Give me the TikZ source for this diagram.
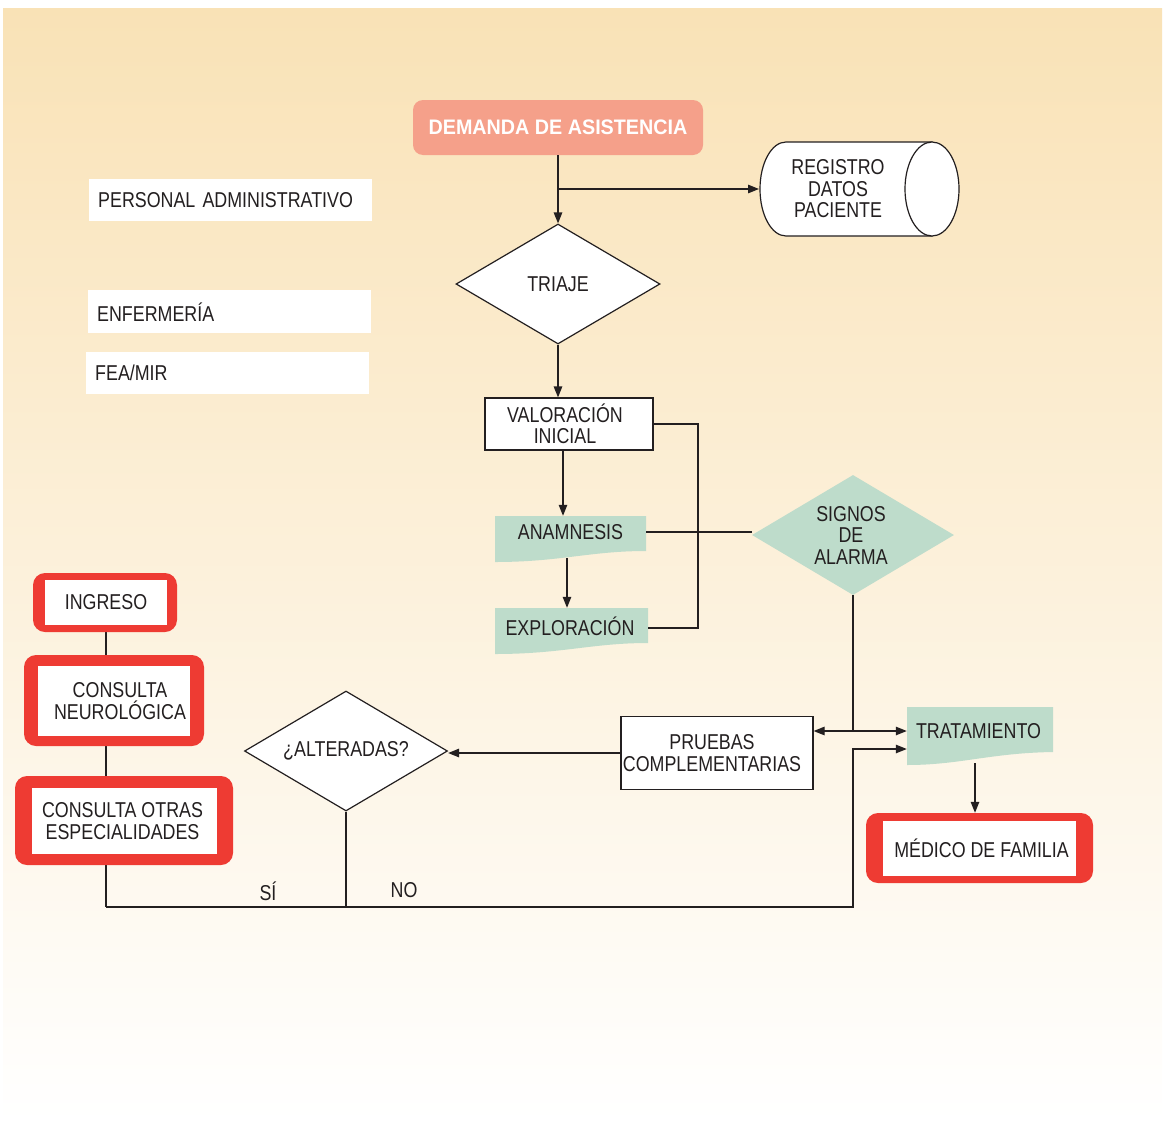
\documentclass[tikz,border=0pt]{standalone}
\usepackage{fontspec}
\setmainfont{Liberation Sans}[FakeStretch=0.83]
\newfontfamily\boldfont{Liberation Sans}[FakeStretch=0.94]
\usetikzlibrary{arrows.meta,shapes.geometric}
\definecolor{bgtop}{HTML}{F9E2B6}
\definecolor{salmon}{HTML}{F5A08A}
\definecolor{mint}{HTML}{BEDCCB}
\definecolor{redc}{HTML}{EE3B33}
\definecolor{ink}{HTML}{231F20}
\tikzset{
  every node/.style={font=\fontsize{21.5}{21.5}\selectfont, text=ink, inner sep=0pt, align=center},
  conn/.style={draw=ink, line width=1.2pt},
  arr/.style={conn, -{Triangle[length=11pt,width=8.5pt]}},
  darr/.style={conn, {Triangle[length=11pt,width=8.5pt]}-{Triangle[length=11pt,width=8.5pt]}},
  box/.style={draw=ink, fill=white, line width=1.2pt, rectangle},
  diam/.style={diamond, aspect=1.7, draw=ink, fill=white, line width=1.2pt},
  mintdiam/.style={diamond, aspect=1.7, fill=mint},
  demanda/.style={rectangle, fill=salmon, rounded corners=10pt, text=white,
     font=\boldfont\fontsize{21}{21}\selectfont\bfseries},
  redout/.style={rectangle, fill=redc, rounded corners=12pt},
  redin/.style={rectangle, fill=white},
  legbox/.style={rectangle, fill=white, anchor=north west, inner xsep=9pt, text width=265pt, align=left},
  doctext/.style={rectangle}
}
\begin{document}
\begin{tikzpicture}[x=1pt,y=-1pt]
\useasboundingbox (0,0) rectangle (1167,1127);
\shade[top color=bgtop, bottom color=white] (3,8) rectangle (1162,1122);

% legend boxes
\node[legbox, minimum width=283pt, minimum height=42pt] (pa) at (89,179) {PERSONAL ADMINISTRATIVO};
\node[legbox, minimum width=283pt, minimum height=43pt] (enf) at (88,290) {ENFERMERÍA};
\node[legbox, minimum width=283pt, minimum height=42pt] (fea) at (86,352) {FEA/MIR};

% coordinates
\coordinate (regw) at (759,189);
\coordinate (a1) at (563,0);
\coordinate (a2) at (567,558);
\coordinate (lx) at (698,0);
\coordinate (j1) at (853,731);
\coordinate (j2) at (853,749);
\coordinate (bl) at (106,907);
\coordinate (br) at (853,907);
\coordinate (t1) at (975,763);

% main nodes
\node[demanda, minimum width=290pt, minimum height=55pt] (dem) at (558,127.5) {DEMANDA DE ASISTENCIA};

\filldraw[fill=white, draw=ink, line width=1.2pt] (786,142) -- (932,142) -- (932,236) -- (786,236)
  .. controls (771.6,236) and (760,215) .. (760,189)
  .. controls (760,163) and (771.6,142) .. (786,142) -- cycle;
\filldraw[fill=white, draw=ink, line width=1.2pt] (932,189) ellipse [x radius=27, y radius=47];
\node (reg) at (838,189) {REGISTRO\\DATOS\\PACIENTE};

\node[diam, minimum width=204pt, minimum height=120pt] (tri) at (558,284) {TRIAJE};
\node[box, minimum width=168pt, minimum height=52pt] (val) at (569,424) {\hspace*{-8pt}VALORACIÓN\\\hspace*{-8pt}INICIAL};

\fill[mint] (495,516) -- (646,516) -- (646,551) .. controls (590,551) and (560,562) .. (495,562) -- cycle;
\node[doctext, minimum width=151pt, minimum height=32pt] (anam) at (570.5,532) {ANAMNESIS};
\fill[mint] (495,608) -- (648,608) -- (648,643) .. controls (592,643) and (562,654) .. (495,654) -- cycle;
\node[doctext, minimum width=153pt, minimum height=36pt] (expl) at (571.5,626) {EXPLORACIÓN\hspace*{3pt}};

\node[mintdiam, minimum width=202pt, minimum height=120pt] (sig) at (853,535) {\hspace*{-4pt}SIGNOS\\\hspace*{-4pt}DE\\\hspace*{-4pt}ALARMA};

\node[box, minimum width=192pt, minimum height=73pt] (pru) at (717,753) {PRUEBAS\hspace*{10pt}\\COMPLEMENTARIAS\hspace*{10pt}};
\node[diam, minimum width=203pt, minimum height=120pt] (alt) at (346,751) {¿ALTERADAS?};

\fill[mint] (907,707) -- (1053,707) -- (1053,752) .. controls (990,753) and (960,765) .. (907,765) -- cycle;
\node[doctext, minimum width=146pt, minimum height=48pt] (trat) at (980,731) {TRATAMIENTO\hspace*{3pt}};

% connectors behind left boxes
\draw[conn] (alt.south) -- (alt.south |- bl);
\draw[conn] (106,630) -- (bl);
\draw[arr] (bl) -- (br) -- (j2) -- (j2 -| trat.west);

% red boxes
\node[redout, minimum width=144pt, minimum height=59pt] (ingo) at (105,602.5) {};
\node[redin, minimum width=122pt, minimum height=45pt] (ing) at (106,602.5) {INGRESO};
\node[redout, minimum width=180pt, minimum height=91pt] (neuo) at (114,700.5) {};
\node[redin, minimum width=152pt, minimum height=70pt] (neu) at (114,701) {\hspace*{12pt}CONSULTA\\\hspace*{12pt}NEUROLÓGICA};
\node[redout, minimum width=218pt, minimum height=89pt] (otro) at (124,820.5) {};
\node[redin, minimum width=185pt, minimum height=66pt] (otr) at (124.5,821) {CONSULTA OTRAS\hspace*{4pt}\\ESPECIALIDADES\hspace*{4pt}};
\node[redout, minimum width=227pt, minimum height=70pt] (medo) at (979.5,848) {};
\node[redin, minimum width=193pt, minimum height=55pt] (med) at (979.5,848.5) {\hspace*{4pt}MÉDICO DE FAMILIA};

% connectors
\draw[arr] (dem.south) -- (tri.north);
\draw[arr] (dem.south |- regw) -- (regw);
\draw[arr] (tri.south) -- (tri.south |- val.north);
\draw[arr] (a1 |- val.south) -- (a1 |- anam.north);
\draw[arr] (a2) -- (a2 |- expl.north);
\draw[conn] (val.east) -- (lx |- val.east) -- (lx |- 0,628) -- (expl.east |- 0,628);
\draw[conn] (anam.east) -- (anam.east -| sig.west);
\draw[conn] (sig.south) -- (sig.south |- j1);
\draw[darr] (j1 -| pru.east) -- (j1 -| trat.west);
\draw[arr] (pru.west) -- (pru.west -| alt.east);
\draw[arr] (t1) -- (t1 |- medo.north);

% labels
\node[anchor=base] (si) at (268,900) {SÍ};
\node[anchor=base] (no) at (404,897) {NO};
\end{tikzpicture}
\end{document}
